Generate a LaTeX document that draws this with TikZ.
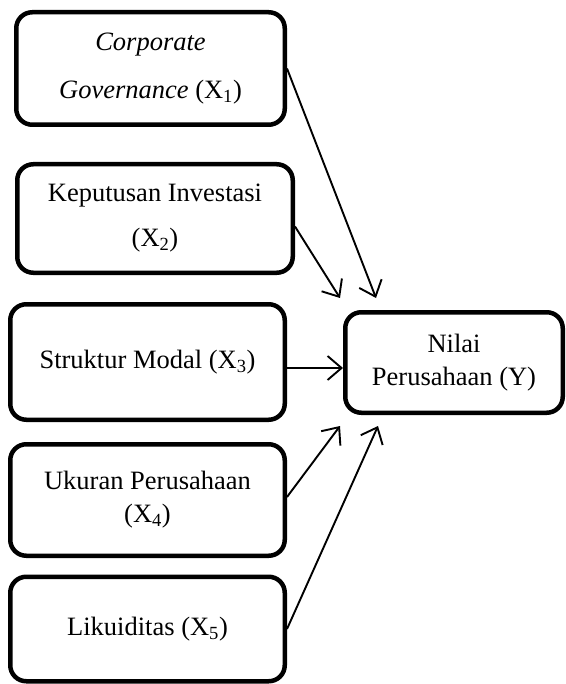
\documentclass[tikz,border=0pt]{standalone}
\usepackage{fontspec}
\setmainfont{Liberation Serif}
\usetikzlibrary{arrows.meta,calc}
\begin{document}
\begin{tikzpicture}[x=1pt,y=-1pt,
  box/.style={draw,line width=4.5pt,rounded corners=16pt,align=center,inner sep=0pt,
    font=\fontsize{26.5}{33}\selectfont},
  link/.style={line width=1.9pt,-{Straight Barb[length=14pt,width=24pt,line width=1.9pt]}}]
\useasboundingbox (0,0) rectangle (565,684);
\node[box,minimum width=268.5pt,minimum height=112.5pt] (b1) at (150.5,68.5)
  {\itshape Corporate\\[15pt]\itshape Governance \upshape(X\textsubscript{1})};
\node[box,minimum width=275.5pt,minimum height=108.5pt] (b2) at (155,218.5)
  {Keputusan Investasi\\[12pt](X\textsubscript{2})};
\node[box,minimum width=274.5pt,minimum height=115.5pt] (b3) at (147.5,362)
  {\raisebox{4pt}{Struktur Modal (X\textsubscript{3})}};
\node[box,minimum width=274.5pt,minimum height=111.5pt] (b4) at (147.5,500)
  {Ukuran Perusahaan\\(X\textsubscript{4})};
\node[box,minimum width=274.5pt,minimum height=104.5pt] (b5) at (147.5,629)
  {Likuiditas (X\textsubscript{5})};
\node[box,minimum width=217.5pt,minimum height=100.5pt] (y) at (454,362.5)
  {Nilai\\Perusahaan (Y)};
\coordinate (a1) at ($(y.north west)+(33,-12)$);
\coordinate (a2) at ($(y.north west)+(-3,-12)$);
\coordinate (s3) at ($(b3.east)+(0,6)$);
\coordinate (a4) at ($(y.south west)+(-3,11)$);
\coordinate (a5) at ($(y.south west)+(35,11)$);
\coordinate (s2) at ($(b2.east)+(0,8)$);
\coordinate (s4) at ($(b4.east)+(0,-3)$);
\draw[link] (b1.east) -- (a1);
\draw[link] (s2) -- (a2);
\draw[link] (s3) -- (s3 -| y.west);
\draw[link] (s4) -- (a4);
\draw[link] (b5.east) -- (a5);
\end{tikzpicture}
\end{document}
